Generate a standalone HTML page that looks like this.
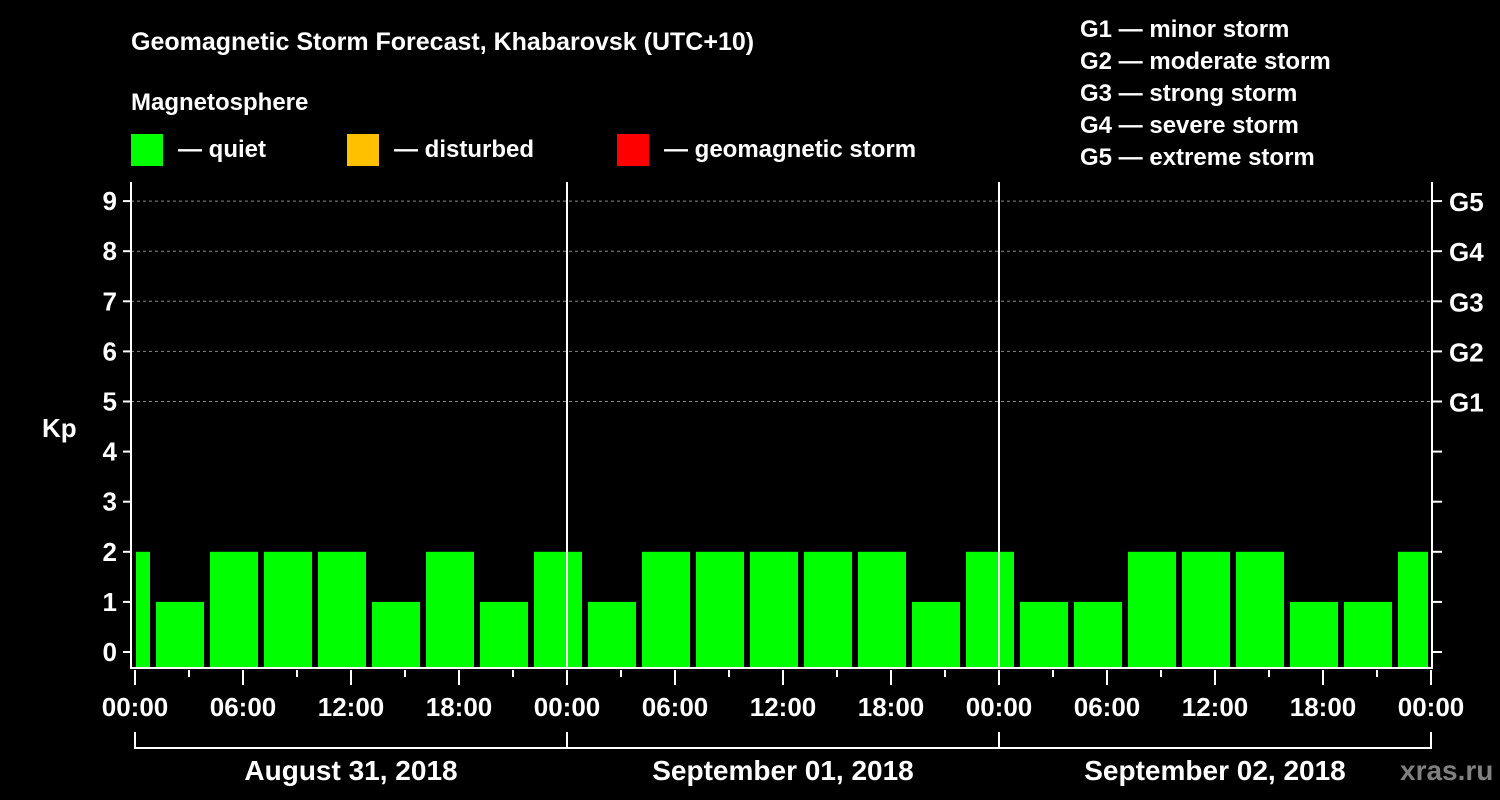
<!DOCTYPE html>
<html><head><meta charset="utf-8"><style>
html,body{margin:0;padding:0;background:#000;}
svg{display:block;font-family:"Liberation Sans",Arial,sans-serif;font-weight:bold;}
</style></head><body>
<svg id="chart" width="1500" height="800" viewBox="0 0 1500 800">
<text x="131" y="50" fill="#fff" font-size="25">Geomagnetic Storm Forecast, Khabarovsk (UTC+10)</text>
<text x="131" y="110" fill="#fff" font-size="24">Magnetosphere</text>
<g><rect x="131" y="134" width="32" height="32" fill="#00ff00"/><text x="178" y="157" fill="#fff" font-size="24">— quiet</text></g>
<g><rect x="347" y="134" width="32" height="32" fill="#ffc000"/><text x="394" y="157" fill="#fff" font-size="24">— disturbed</text></g>
<g><rect x="617" y="134" width="32" height="32" fill="#ff0000"/><text x="664" y="157" fill="#fff" font-size="24">— geomagnetic storm</text></g>
<g fill="#fff" font-size="24">
<text x="1080" y="37">G1 — minor storm</text>
<text x="1080" y="69">G2 — moderate storm</text>
<text x="1080" y="101">G3 — strong storm</text>
<text x="1080" y="133">G4 — severe storm</text>
<text x="1080" y="165">G5 — extreme storm</text>
</g>
<text x="42" y="437" fill="#fff" font-size="26">Kp</text>
<text x="1400" y="780" fill="#808080" font-size="28">xras.ru</text>
<g id="plot"></g>
</svg>
<script>
const kpValues = [2, 1,2,2,2,1,2,1,2, 1,2,2,2,2,2,1,2, 1,1,2,2,2,1,1,2];
const barStartHours = [-2, 1,4,7,10,13,16,19,22, 25,28,31,34,37,40,43,46, 49,52,55,58,61,64,67,70];
const yTickLabels = ["0","1","2","3","4","5","6","7","8","9"];
const gLabels = {5:"G1",6:"G2",7:"G3",8:"G4",9:"G5"};
const xTickLabels = ["00:00","06:00","12:00","18:00","00:00","06:00","12:00","18:00","00:00","06:00","12:00","18:00","00:00"];
const dayLabels = ["August 31, 2018","September 01, 2018","September 02, 2018"];

const NS="http://www.w3.org/2000/svg";
const g=document.getElementById('plot');
const X0=135, PXH=18, Y0=652, PXK=50.1, LEFT=131, RIGHT=1432, TOP=182, BOTTOM=668;
const xs=h=>X0+h*PXH, ys=k=>Y0-k*PXK;
function el(t,a){const e=document.createElementNS(NS,t);for(const k in a)e.setAttribute(k,a[k]);g.appendChild(e);return e;}

// grid
for(let k=5;k<=9;k++){
  const l=el('line',{x1:LEFT,x2:RIGHT,y1:ys(k),y2:ys(k),stroke:'#888','stroke-dasharray':'3,3','stroke-width':1});
  
  
}
// bars
kpValues.forEach((v,i)=>{
  let x1=xs(barStartHours[i])+3, x2=xs(barStartHours[i]+3)-3;
  x1=Math.max(x1,LEFT+5); x2=Math.min(x2,RIGHT-4);
  const r=el('rect',{x:x1,y:ys(v),width:x2-x1,height:BOTTOM-ys(v),fill:v>=5?'#ff0000':(v>=4?'#ffc000':'#00ff00')});
  
  
});
// day separators
for(let d=1;d<=2;d++){
  const l=el('line',{x1:xs(24*d),x2:xs(24*d),y1:TOP,y2:BOTTOM,stroke:'#fff','stroke-width':2});
  
  
}
// axes
const ax=el('path',{d:`M${LEFT},${TOP}V${BOTTOM}H${RIGHT}V${TOP}`,stroke:'#fff','stroke-width':2,fill:'none'});


yTickLabels.forEach((t,k)=>{
  el('line',{x1:LEFT-8,x2:LEFT,y1:ys(k),y2:ys(k),stroke:'#fff','stroke-width':2});
  el('line',{x1:RIGHT,x2:RIGHT+10,y1:ys(k),y2:ys(k),stroke:'#fff','stroke-width':2});
  const tx=el('text',{x:LEFT-14,y:ys(k)+9,fill:'#fff','font-size':26,'text-anchor':'end'});
  tx.textContent=t;
  
  
  if(gLabels[k]){
    const gt=el('text',{x:1449,y:ys(k)+10,fill:'#fff','font-size':26});
    gt.textContent=gLabels[k];
    
    
  }
});
for(let h=0;h<=72;h+=3){
  const major=h%6===0;
  el('line',{x1:xs(h),x2:xs(h),y1:BOTTOM+2,y2:BOTTOM+(major?17:9),stroke:'#fff','stroke-width':2});
}
xTickLabels.forEach((t,i)=>{
  const tx=el('text',{x:xs(i*6),y:716,fill:'#fff','font-size':26,'text-anchor':'middle'});
  tx.textContent=t;
  
  
});
const br=el('path',{d:`M${xs(0)},732V748H${xs(72)}V732M${xs(24)},732V748M${xs(48)},732V748`,stroke:'#fff','stroke-width':2,fill:'none'});


dayLabels.forEach((t,i)=>{
  const tx=el('text',{x:xs(24*i+12),y:780,fill:'#fff','font-size':28,'text-anchor':'middle'});
  tx.textContent=t;
  
  
});
</script>
</body></html>
